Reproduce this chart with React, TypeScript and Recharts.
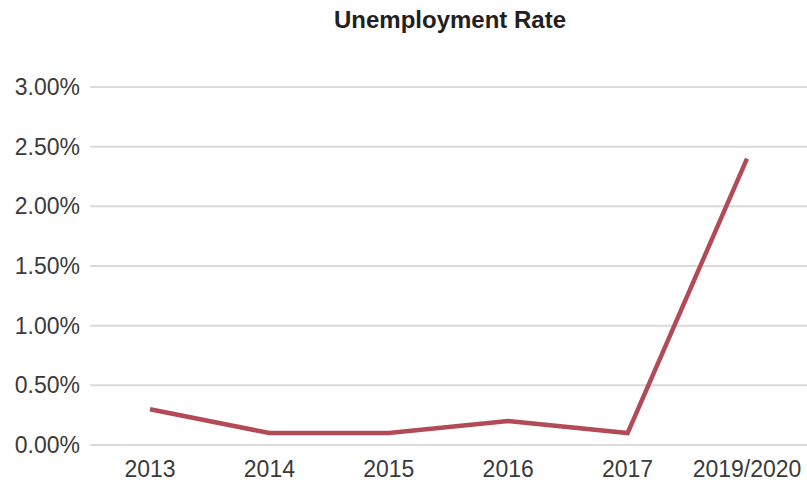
import React from 'react';
import { LineChart, Line, XAxis, YAxis, CartesianGrid } from 'recharts';

const years = ['2013', '2014', '2015', '2016', '2017', '2019/2020'];
const rates = [0.3, 0.1, 0.1, 0.2, 0.1, 2.4];
const yTicks = [0, 0.5, 1, 1.5, 2, 2.5, 3];

const data = years.map((year, i) => ({ year, rate: rates[i] }));

const font = '"Liberation Sans", Arial, Helvetica, sans-serif';

const App: React.FC = () => {
  return (
    <div style={{ position: 'absolute', left: 0, top: 0, width: 807, height: 482, background: '#fff', fontFamily: font }}>
      <div
        style={{
          position: 'absolute',
          left: 0,
          width: 900,
          top: 6,
          textAlign: 'center',
          fontSize: 24,
          fontWeight: 'bold',
          color: '#231f20',
          lineHeight: '28px',
        }}
      >
        Unemployment Rate
      </div>
      <LineChart width={807} height={482} data={data} margin={{ top: 87, right: 0, left: 0, bottom: 0 }}>
        <CartesianGrid vertical={false} stroke="#dadada" strokeWidth={2} />
        <XAxis
          dataKey="year"
          axisLine={false}
          tickLine={false}
          height={37}
          tickMargin={10}
          padding={{ left: 60, right: 60 }}
          tick={{ fill: '#3a3a3a', fontSize: 23, fontFamily: font }}
        />
        <YAxis
          width={90}
          domain={[0, 3]}
          ticks={yTicks}
          axisLine={false}
          tickLine={false}
          tickMargin={4}
          tickFormatter={(v: number) => `${v.toFixed(2)}%`}
          tick={{ fill: '#3a3a3a', fontSize: 23, fontFamily: font }}
        />
        <Line
          type="linear"
          dataKey="rate"
          stroke="#b34a58"
          strokeWidth={4.5}
          dot={false}
          isAnimationActive={false}
        />
      </LineChart>
    </div>
  );
};

export default App;
